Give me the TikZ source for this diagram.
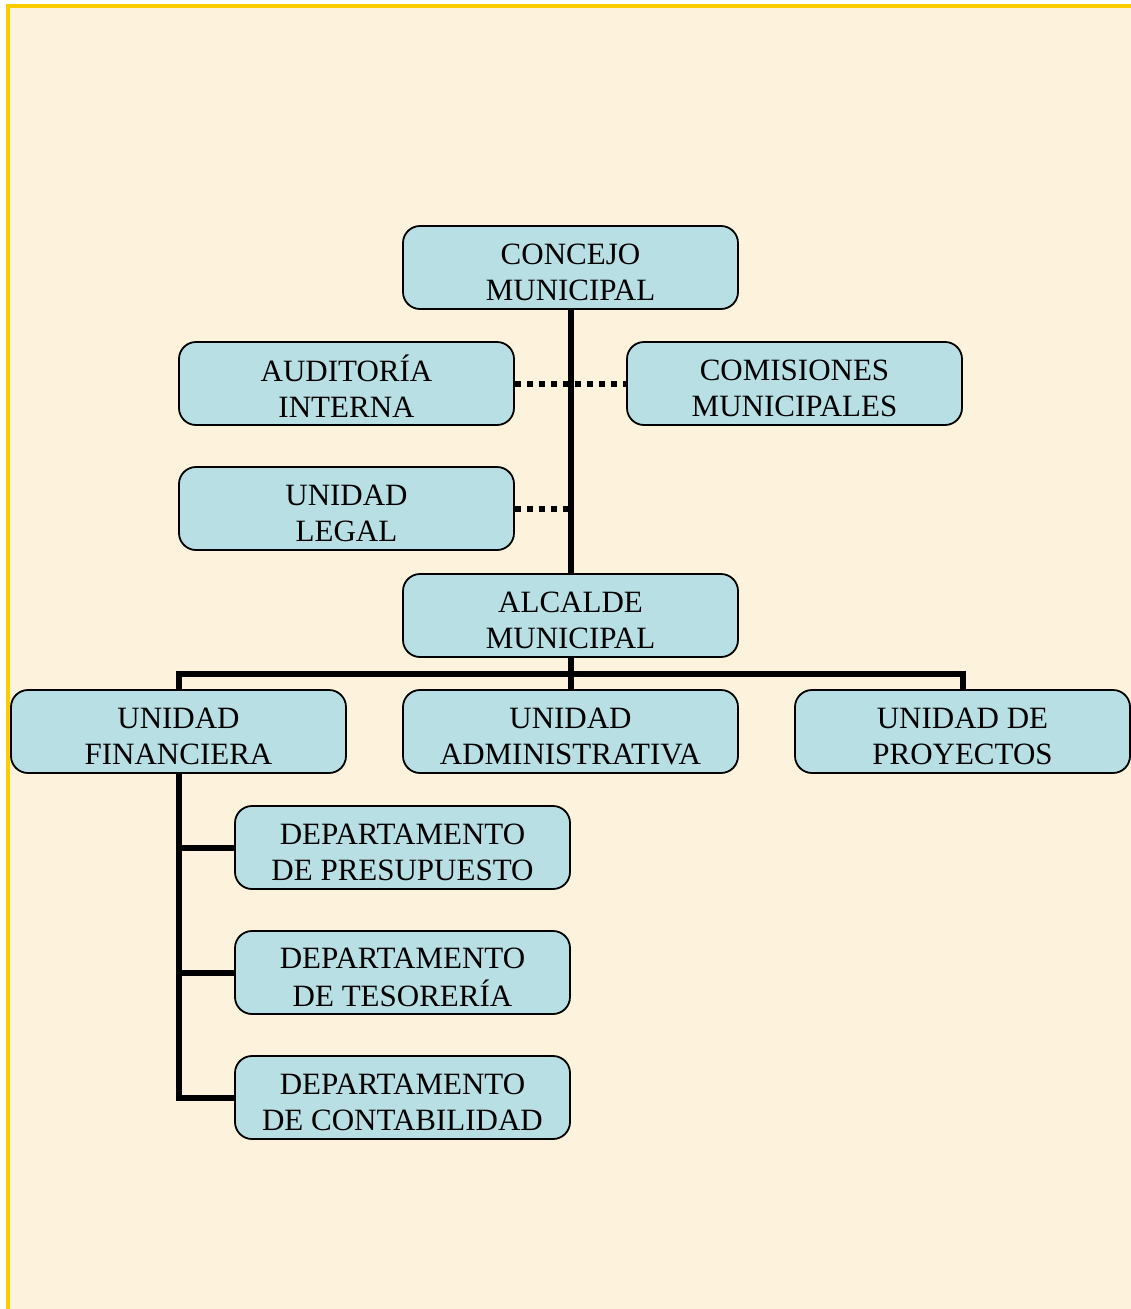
\documentclass[tikz,border=0pt]{standalone}
\usepackage{fontspec}
\setmainfont{Liberation Serif}
\definecolor{paper}{RGB}{253,242,219}
\definecolor{frameyellow}{RGB}{255,204,0}
\definecolor{boxblue}{RGB}{184,223,227}
% two centred lines inside a unit box, set a little below the middle
\newcommand\twoline[2]{\raisebox{-14pt}[0pt][0pt]{\begin{tabular}{@{}c@{}}#1\\#2\end{tabular}}}
\begin{document}
\begin{tikzpicture}[x=1pt,y=-1pt,
  unit/.style={draw=black, line width=1.8pt, fill=boxblue, rounded corners=17pt,
    minimum width=335pt, minimum height=83pt, inner sep=0pt,
    font=\fontsize{31}{36}\selectfont},
  link/.style={line width=6pt, black},
  dotlink/.style={line width=6pt, black, dash pattern=on 6pt off 6pt}]

% page and frame
\useasboundingbox (0,0) rectangle (1131,1309);
\clip (0,0) rectangle (1131,1309);
\fill[white] (0,0) rectangle (1131,1309);
\filldraw[fill=paper, draw=frameyellow, line width=4pt] (8,6) rectangle (1180,1360);

% organisation units
\node[unit] (concejo) at (570.5,267.5) {\twoline{CONCEJO}{MUNICIPAL}};
\node[unit] (auditoria) at (346.5,383.5) {\twoline{AUDITORÍA}{INTERNA}};
\node[unit] (comisiones) at (794.5,383.5) {\twoline{COMISIONES}{MUNICIPALES}};
\node[unit] (legal) at (346.5,508.5) {\twoline{UNIDAD}{LEGAL}};
\node[unit] (alcalde) at (570.5,615.5) {\twoline{ALCALDE}{MUNICIPAL}};
\node[unit] (financiera) at (178.5,731.5) {\twoline{UNIDAD}{FINANCIERA}};
\node[unit] (administrativa) at (570.5,731.5) {\twoline{UNIDAD}{ADMINISTRATIVA}};
\node[unit] (proyectos) at (962.5,731.5) {\twoline{UNIDAD DE}{PROYECTOS}};
\node[unit] (presupuesto) at (402.5,847.5) {\twoline{DEPARTAMENTO}{DE PRESUPUESTO}};
\node[unit] (tesoreria) at (402.5,972.5) {\twoline{DEPARTAMENTO}{DE TESORERÍA}};
\node[unit] (contabilidad) at (402.5,1097.5) {\twoline{DEPARTAMENTO}{DE CONTABILIDAD}};

% staff (advisory) links
\draw[dotlink] (auditoria.east) -- (comisiones.west);
\draw[dotlink] (legal.east) -- (legal.east -| concejo.south);

% line of authority
\draw[link] (concejo.south) -- (alcalde.north);
\coordinate (bus) at (570.5,674);
\draw[link] (alcalde.south) -- (administrativa.north);
\draw[link] (financiera.north) -- (financiera.north |- bus) -| (proyectos.north);

% departments under the finance unit
\draw[link] (financiera.south) |- (presupuesto.west);
\draw[link] (financiera.south) |- (tesoreria.west);
\draw[link] (financiera.south) |- (contabilidad.west);
\end{tikzpicture}
\end{document}
